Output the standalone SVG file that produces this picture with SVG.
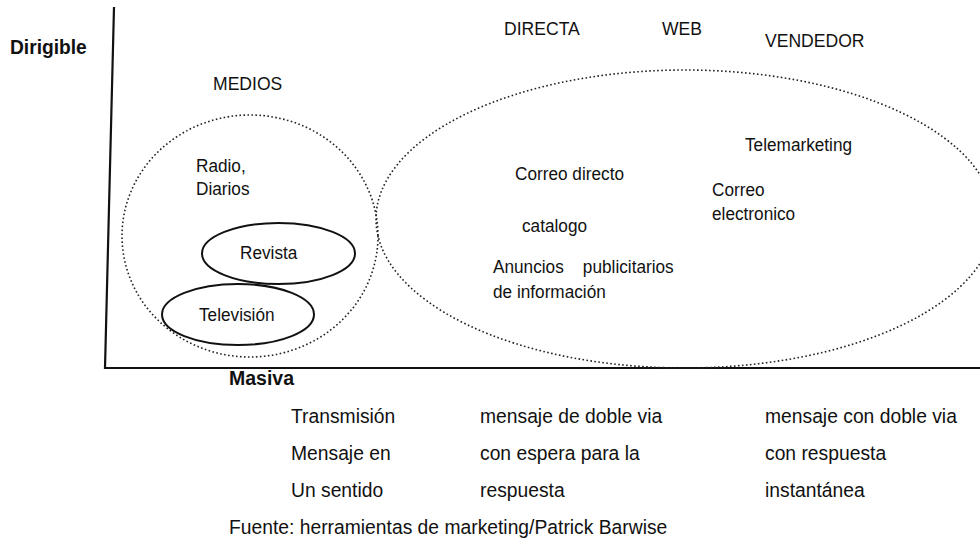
<svg xmlns="http://www.w3.org/2000/svg" width="980" height="539" viewBox="0 0 980 539">
<style>
text{font-family:"Liberation Sans",Arial,sans-serif;font-size:18.5px;fill:#111}
.b{font-weight:bold}
.low{font-size:19.3px}
.dot{fill:none;stroke:#222;stroke-width:1.6;stroke-dasharray:1.6 2.4}
.sol{fill:none;stroke:#111;stroke-width:2}
.axis{stroke:#111;stroke-width:2.2;fill:none}
</style>
<rect width="980" height="539" fill="#fff"/>
<g id="connectors">
<path class="axis" d="M114 7 L105 368 L980 368"/>
</g>
<g id="medios">
<ellipse class="dot" cx="250" cy="236" rx="128" ry="121"/>
<text transform="translate(213 90) scale(0.95 1)">MEDIOS</text>
<text transform="translate(196 172) scale(0.93 1)">Radio,</text>
<text transform="translate(196 195) scale(0.93 1)">Diarios</text>
</g>
<g id="revista">
<ellipse class="sol" cx="278.5" cy="253.5" rx="76.5" ry="30.5"/>
<text transform="translate(240 259) scale(0.93 1)">Revista</text>
</g>
<g id="television">
<ellipse class="sol" cx="238" cy="314.5" rx="76" ry="30.5"/>
<text transform="translate(199 321) scale(0.93 1)">Televisión</text>
</g>
<g id="directa">
<ellipse class="dot" cx="685" cy="219" rx="309" ry="149"/>
<text transform="translate(504 35) scale(0.95 1)">DIRECTA</text>
<text transform="translate(662 35) scale(0.95 1)">WEB</text>
<text transform="translate(765 47) scale(0.95 1)">VENDEDOR</text>
<text transform="translate(515 180) scale(0.93 1)">Correo directo</text>
<text transform="translate(745 151) scale(0.93 1)">Telemarketing</text>
<text transform="translate(712 196) scale(0.93 1)">Correo</text>
<text transform="translate(712 220) scale(0.93 1)">electronico</text>
<text transform="translate(522 232) scale(0.93 1)">catalogo</text>
<text transform="translate(493 273) scale(0.93 1)" xml:space="preserve">Anuncios    publicitarios</text>
<text transform="translate(493 298) scale(0.93 1)">de información</text>
</g>
<g id="labels">
<text class="b" style="font-size:20px" transform="translate(10 54) scale(0.96 1)">Dirigible</text>
<text class="b" style="font-size:19.5px" x="229" y="385">Masiva</text>
<text class="low" x="291" y="423">Transmisión</text>
<text class="low" x="291" y="460">Mensaje en</text>
<text class="low" x="291" y="497">Un sentido</text>
<text class="low" x="480" y="423">mensaje de doble via</text>
<text class="low" x="480" y="460">con espera para la</text>
<text class="low" x="480" y="497">respuesta</text>
<text class="low" x="765" y="423">mensaje con doble via</text>
<text class="low" x="765" y="460">con respuesta</text>
<text class="low" x="765" y="497">instantánea</text>
<text class="low" x="229" y="534">Fuente: herramientas de marketing/Patrick Barwise</text>
</g>
</svg>
